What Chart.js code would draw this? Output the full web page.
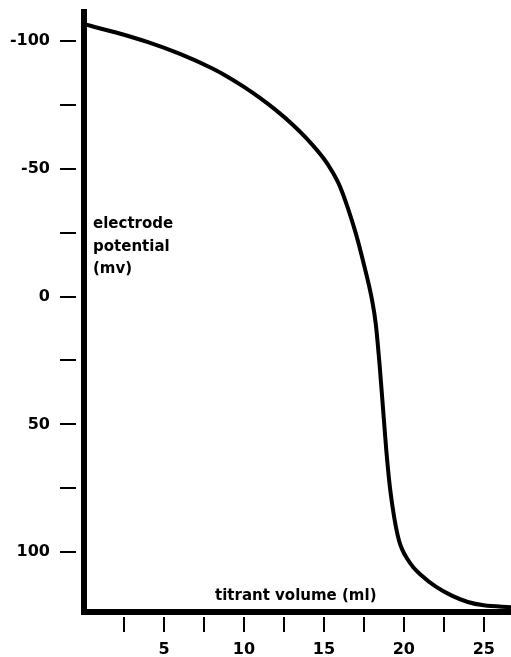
<!DOCTYPE html>
<html>
<head>
<meta charset="utf-8">
<script src="https://cdn.jsdelivr.net/npm/chart.js@4/dist/chart.umd.min.js"></script>
<style>
  html, body { margin: 0; padding: 0; background: #fff; }
  canvas { display: block; }
</style>
</head>
<body>
<canvas id="chart" width="511" height="657"></canvas>
<script>
// titration curve
const volume = [0, 2, 4, 6, 8, 9, 10, 11, 12, 13, 14, 15, 15.5, 16, 16.5, 17, 17.5, 18, 18.25, 18.5, 18.7, 18.9, 19.1, 19.3, 19.5, 19.7, 19.9, 20.2, 20.6, 21, 22, 23, 24, 25, 26.7];
const potential = [-106.5, -103.3, -99.5, -94.9, -89.3, -85.9, -82, -77.7, -72.9, -67.5, -61.3, -53.9, -49.1, -43.1, -34.6, -24.6, -12.6, 1, 11, 28, 44, 60, 73, 82.5, 90, 95.5, 99, 102.5, 106, 108.5, 113.5, 117, 119.5, 120.8, 121.5];

const xTicks = [2.5, 5, 7.5, 10, 12.5, 15, 17.5, 20, 22.5, 25];
const yTicks = [-100, -75, -50, -25, 0, 25, 50, 75, 100];

const xLabel = 'titrant volume (ml)';
const yLabel = ['electrode', 'potential', '(mv)'];

const FONT = 'DejaVu Sans';

const axisText = {
  id: 'axisText',
  afterDraw(chart) {
    const { ctx, chartArea } = chart;
    ctx.save();
    ctx.fillStyle = '#000';
    ctx.font = 'bold 15px "' + FONT + '"';
    ctx.textBaseline = 'alphabetic';
    ctx.textAlign = 'left';
    yLabel.forEach((line, i) => {
      ctx.fillText(line, chartArea.left + 9, 228 + i * 22.5);
    });
    ctx.fillText(xLabel, chartArea.left + 131, chartArea.bottom - 12);
    ctx.restore();
  },
};

new Chart(document.getElementById('chart'), {
  type: 'line',
  data: {
    datasets: [
      {
        data: volume.map((v, i) => ({ x: v, y: potential[i] })),
        borderColor: '#000',
        borderWidth: 4,
        pointRadius: 0,
        cubicInterpolationMode: 'monotone',
        fill: false,
      },
    ],
  },
  options: {
    responsive: false,
    animation: false,
    layout: { padding: { top: 12, right: 0, left: 0, bottom: 0 } },
    plugins: {
      legend: { display: false },
      tooltip: { enabled: false },
    },
    scales: {
      x: {
        type: 'linear',
        min: 0,
        max: 26.7,
        afterBuildTicks: scale => {
          scale.ticks = xTicks.map(v => ({ value: v }));
        },
        afterFit: scale => {
          scale.height = 45;
          scale.paddingLeft = 0;
          scale.paddingRight = 0;
        },
        grid: {
          drawOnChartArea: false,
          drawTicks: true,
          tickLength: 20,
          tickColor: '#000',
          tickBorderDash: [0, 2, 15, 30],
          lineWidth: 2,
        },
        border: { display: true, color: '#000', width: 6 },
        ticks: {
          color: '#000',
          padding: 8,
          maxRotation: 0,
          autoSkip: false,
          font: { family: FONT, size: 16, weight: 'bold' },
          callback: v => (v % 5 === 0 ? String(v) : ''),
        },
      },
      y: {
        type: 'linear',
        reverse: true,
        min: -111.3,
        max: 123.4,
        afterBuildTicks: scale => {
          scale.ticks = yTicks.map(v => ({ value: v }));
        },
        afterFit: scale => {
          scale.width = 84;
          scale.paddingTop = 0;
          scale.paddingBottom = 0;
        },
        grid: {
          drawOnChartArea: false,
          drawTicks: true,
          tickLength: 24,
          tickColor: '#000',
          tickBorderDash: [16, 30],
          lineWidth: 2,
        },
        border: { display: true, color: '#000', width: 6 },
        ticks: {
          color: '#000',
          padding: 10,
          autoSkip: false,
          font: { family: FONT, size: 16, weight: 'bold' },
          callback: v => (v % 50 === 0 ? String(v) : ''),
        },
      },
    },
  },
  plugins: [axisText],
});
</script>
</body>
</html>
